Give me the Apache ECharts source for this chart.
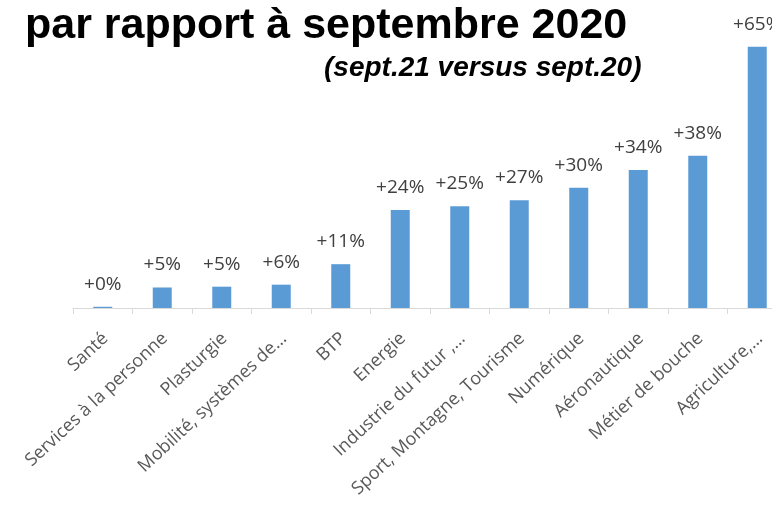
<!DOCTYPE html>
<html><head><meta charset="utf-8">
<script src="https://cdn.jsdelivr.net/npm/echarts@6/dist/echarts.min.js"></script>
<style>html,body{margin:0;padding:0;background:#fff;overflow:hidden}#c{width:800px;height:505px}</style>
</head><body><div id="c"></div>
<script>
var titleText = "par rapport à septembre 2020";
var subtitleText = "(sept.21 versus sept.20)";
var categories = ["Santé","Services à la personne","Plasturgie","Mobilité, systèmes de…","BTP","Energie","Industrie du futur ,…","Sport, Montagne, Tourisme","Numérique","Aéronautique","Métier de bouche","Agriculture,…"];
var values = [0.3, 5.1, 5.3, 5.8, 10.9, 24.4, 25.3, 26.8, 29.9, 34.3, 37.9, 65.0];
var valueLabels = ["+0%","+5%","+5%","+6%","+11%","+24%","+25%","+27%","+30%","+34%","+38%","+65%"];

var chart = echarts.init(document.getElementById('c'), null, {renderer:'canvas'});
chart.setOption({
  animation:false,
  backgroundColor:'#ffffff',
  title:[
    {text:titleText, left:20, top:0, textStyle:{fontFamily:'Liberation Sans', fontWeight:'bold', fontSize:43, color:'#000'}},
    {text:subtitleText, left:319, top:49, textStyle:{fontFamily:'Liberation Sans', fontWeight:'bold', fontStyle:'italic', fontSize:28, color:'#000'}}
  ],
  grid:{left:73, top:26.6, width:714, height:281.4, containLabel:false, outerBoundsMode:'none'},
  xAxis:{
    type:'category', data:categories,
    axisLine:{lineStyle:{color:'#d9d9d9', width:1}},
    axisTick:{show:true, length:6, lineStyle:{color:'#d9d9d9'}},
    axisLabel:{interval:0, rotate:43, margin:25, color:'#595959', fontFamily:'Open Sans', fontSize:18,
      verticalAlign:'top', lineHeight:8}
  },
  yAxis:{type:'value', min:0, max:70, show:false, splitLine:{show:false}},
  series:[{
    type:'bar', data:values, barWidth:19,
    itemStyle:{color:'#5B9BD5'},
    label:{show:true, position:'top', distance:13, color:'#404040', fontFamily:'Open Sans', fontSize:19,
      formatter:function(p){return valueLabels[p.dataIndex];}}
  }]
});
</script></body></html>
